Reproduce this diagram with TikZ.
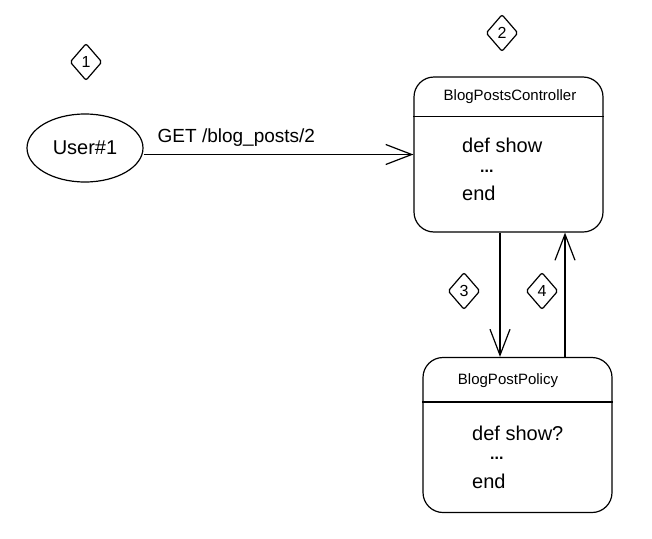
\documentclass[tikz,border=0pt]{standalone}
\usepackage{fontspec}
\setmainfont{Liberation Sans}
\usetikzlibrary{shapes.geometric,arrows.meta}
\begin{document}
\begin{tikzpicture}[x=1pt,y=-1pt,
  ink/.style={line width=1.2pt,draw=black},
  classbox/.style={ink,rectangle,rounded corners=20pt,minimum width=189pt,minimum height=155pt,inner sep=0pt},
  stepmark/.style={ink,diamond,rounded corners=2pt,minimum width=32pt,minimum height=37pt,inner sep=0pt,font=\fontsize{16}{16}\selectfont},
  title/.style={font=\fontsize{15}{15}\selectfont},
  code/.style={font=\fontsize{20}{20}\selectfont,anchor=west,inner sep=0pt},
  dots/.style={font=\fontsize{16}{16}\selectfont\bfseries,anchor=west,inner sep=0pt},
  arr/.style={ink,-{Straight Barb[length=26pt,width=20pt,line width=1.2pt]}}
]
\useasboundingbox (0,0) rectangle (652,538);

% numbered step markers
\node[stepmark] (s1) at (86,62) {1};
\node[stepmark] (s2) at (502,33) {2};
\node[stepmark] (s3) at (464,291) {3};
\node[stepmark] (s4) at (542,291) {4};

% the user
\node[ink,ellipse,minimum width=116pt,minimum height=68pt,inner sep=0pt,
      font=\fontsize{20}{20}\selectfont] (user) at (85,148) {User\#1};

% controller class
\node[classbox] (ctrl) at (508.5,154.5) {};
\draw[ink] ([yshift=-40pt]ctrl.north west) -- ([yshift=-40pt]ctrl.north east);
\node[title] (ctrlname) at (510,97) {BlogPostsController};
\node[code] (c1) at (462,145) {def show};
\node[dots] (c2) at (480,171) {...};
\node[code] (c3) at (462,193) {end};

% policy class
\node[classbox] (pol) at (517.5,435) {};
\draw[ink] ([yshift=-45pt]pol.north west) -- ([yshift=-45pt]pol.north east);
\node[title] (polname) at (508,381) {BlogPostPolicy};
\node[code] (p1) at (472,433) {def show?};
\node[dots] (p2) at (490,458) {...};
\node[code] (p3) at (472,481) {end};

% request from the user to the controller
\draw[arr] (ctrl.west -| user.east) -- (ctrl.west)
  node[pos=0.05,anchor=south west,inner sep=0pt,yshift=7pt,
       font=\fontsize{19}{19}\selectfont] (req) {GET /blog\_posts/2};

% controller asks the policy, policy answers
\coordinate (down) at ([xshift=-8.5pt]ctrl.south);
\draw[arr] (down) -- (down |- pol.north);
\coordinate (up) at ([xshift=47.5pt]pol.north);
\draw[arr] (up) -- (up |- ctrl.south);
\end{tikzpicture}
\end{document}
